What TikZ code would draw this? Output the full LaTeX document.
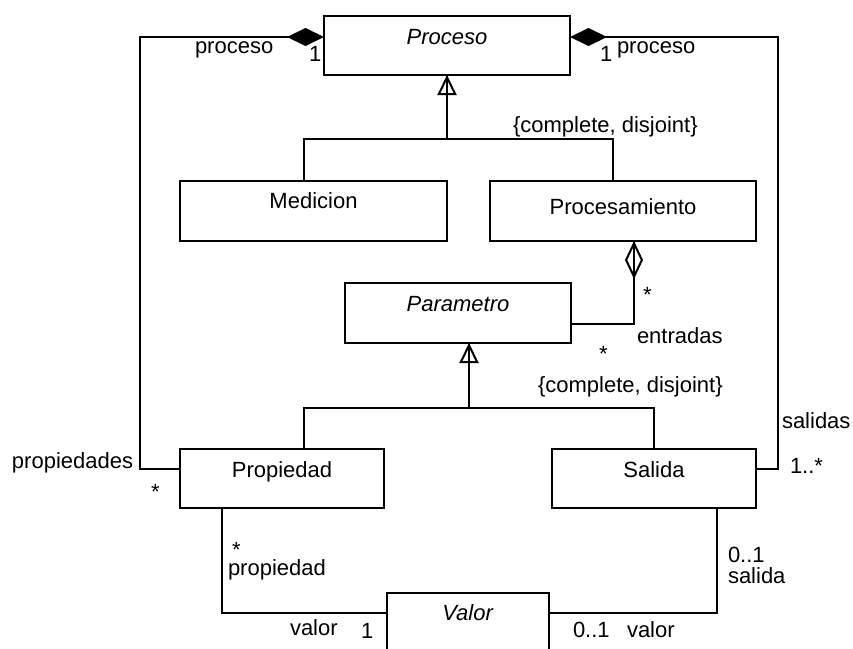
\documentclass[tikz,border=0pt]{standalone}
\usepackage{fontspec}
\setmainfont{Liberation Sans}
\usetikzlibrary{arrows.meta}
\begin{document}
\begin{tikzpicture}[x=1pt,y=-1pt,
  every node/.style={font=\fontsize{22}{26}\selectfont, inner sep=0pt, outer sep=0pt},
  wire/.style={line width=2pt},
  cls/.style 2 args={draw, line width=2pt, anchor=north west,
    minimum width=#1, minimum height=#2},
  title/.style 2 args={label={[anchor=base,yshift=-#2pt]north:#1}},
  txt/.style={anchor=base west},
  comp/.style={{Diamond[length=37pt,width=18pt]}-},
  aggr/.style={{Diamond[open,length=38pt,width=18pt]}-},
  gen/.style={-{Triangle[open,length=20pt,width=19pt]}}]
\useasboundingbox (0,0) rectangle (853,648);
\clip (0,0) rectangle (853,648);

% classes
\node[cls={246pt}{59pt}, title={\textit{Proceso}}{28}] (proc) at (324,16) {};
\node[cls={267pt}{60pt}, title={Medicion}{27}] (med) at (180,181) {};
\node[cls={266pt}{60pt}, title={Procesamiento}{33}] (procs) at (490,181) {};
\node[cls={226pt}{60pt}, title={\textit{Parametro}}{28}] (param) at (345,283) {};
\node[cls={204pt}{59pt}, title={Propiedad}{28}] (prop) at (180,449) {};
\node[cls={204pt}{59pt}, title={Salida}{28}] (sal) at (552,449) {};
\node[cls={162pt}{70pt}, title={\textit{Valor}}{27}] (val) at (387,593) {};

% compositions with Proceso
\draw[wire, comp] ([yshift=-21pt]proc.north west) -- ++(-184,0) |- ([yshift=-20pt]prop.north west);
\draw[wire, comp] ([yshift=-21pt]proc.north east) -- ++(208,0) |- ([yshift=-20pt]sal.north east);

% generalization of Proceso
\coordinate (g1) at ([yshift=-64pt]proc.south);
\draw[wire] (g1) -- (proc.south);
\draw[wire, gen] (g1) -- (proc.south);
\draw[wire] ([xshift=-9.5pt]med.north) |- (g1) -| ([xshift=-10pt]procs.north);

% aggregation Procesamiento - Parametro
\draw[wire] ([xshift=11pt]procs.south) |- ([yshift=-11pt]param.east);
\draw[wire, aggr] ([xshift=11pt]procs.south) -- ++(0,40);

% generalization of Parametro
\coordinate (g2) at ([xshift=11pt,yshift=-65pt]param.south);
\draw[wire] (g2) -- ([xshift=11pt]param.south);
\draw[wire, gen] (g2) -- ([xshift=11pt]param.south);
\draw[wire] ([xshift=22pt]prop.north) |- (g2) -| (sal.north);

% associations with Valor
\draw[wire] ([xshift=-60pt]prop.south) |- ([yshift=-20pt]val.north west);
\draw[wire] ([xshift=63pt]sal.south) |- ([yshift=-20pt]val.north east);

% role names and multiplicities
\node[txt] (l1) at (195,53) {proceso};
\node[txt] (l2) at (309,61) {1};
\node[txt] (l3) at (600,61) {1};
\node[txt] (l4) at (617,53) {proceso};
\node[txt] (l5) at (513,132) {\{complete, disjoint\}};
\node[txt] (l6) at (643,302) {*};
\node[txt] (l7) at (637,343) {entradas};
\node[txt] (l8) at (599,361) {*};
\node[txt] (l9) at (538,392) {\{complete, disjoint\}};
\node[txt] (l10) at (782,428) {salidas};
\node[txt] (l11) at (790,473) {1..*};
\node[txt] (l12) at (12,468) {propiedades};
\node[txt] (l13) at (151,499) {*};
\node[txt] (l14) at (232,557) {*};
\node[txt] (l15) at (228,575) {propiedad};
\node[txt] (l16) at (290,635) {valor};
\node[txt] (l17) at (361,638) {1};
\node[txt] (l18) at (573,637) {0..1};
\node[txt] (l19) at (627,637) {valor};
\node[txt] (l20) at (728,562) {0..1};
\node[txt] (l21) at (728,583) {salida};
\end{tikzpicture}
\end{document}
